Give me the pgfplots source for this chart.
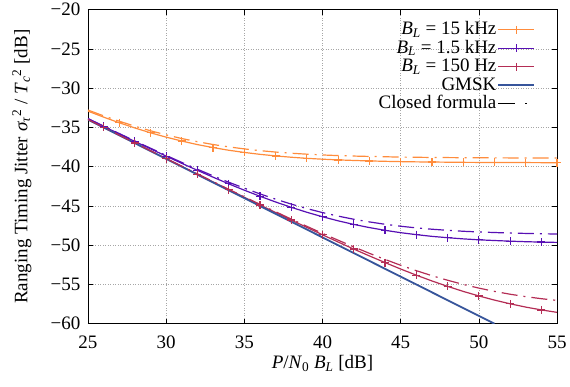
\documentclass[border=0pt]{standalone}
\usepackage{fontspec}
\setmainfont{Liberation Serif}
\usepackage{pgfplots}
\usepackage{pgfplotstable}
\pgfplotsset{compat=1.18}
\definecolor{corange}{RGB}{255,140,60}
\definecolor{cpurple}{RGB}{88,16,180}
\definecolor{cred}{RGB}{180,45,85}
\definecolor{cblue}{RGB}{55,85,155}
\newcommand{\bigf}{\fontsize{19}{22}\selectfont}

\pgfplotstableread{
x y
25 -32.92
26 -33.68
27 -34.40
28 -35.06
29 -35.68
30 -36.23
31 -36.73
32 -37.18
33 -37.56
34 -37.90
35 -38.18
36 -38.42
37 -38.62
38 -38.79
39 -38.93
40 -39.04
41 -39.13
42 -39.20
43 -39.26
44 -39.31
45 -39.35
46 -39.38
47 -39.40
48 -39.42
49 -39.44
50 -39.45
51 -39.46
52 -39.47
53 -39.47
54 -39.48
55 -39.48
}\orangesim

\pgfplotstableread{
x y
25 -32.78
26 -33.52
27 -34.20
28 -34.84
29 -35.42
30 -35.94
31 -36.41
32 -36.81
33 -37.17
34 -37.47
35 -37.73
36 -37.95
37 -38.13
38 -38.28
39 -38.40
40 -38.50
41 -38.58
42 -38.64
43 -38.69
44 -38.73
45 -38.77
47 -38.82
49 -38.85
51 -38.87
53 -38.88
55 -38.89
}\orangecf

\pgfplotstableread{
x y
25 -33.89
26 -34.86
27 -35.82
28 -36.78
29 -37.72
30 -38.65
31 -39.57
32 -40.46
33 -41.33
34 -42.18
35 -42.99
36 -43.76
37 -44.49
38 -45.17
39 -45.80
40 -46.37
41 -46.89
42 -47.35
43 -47.75
44 -48.10
45 -48.40
46 -48.65
47 -48.87
48 -49.04
49 -49.19
50 -49.31
51 -49.40
52 -49.48
53 -49.55
54 -49.60
55 -49.64
}\purplesim

\pgfplotstableread{
x y
25 -33.86
26 -34.82
27 -35.77
28 -36.72
29 -37.64
30 -38.56
31 -39.45
32 -40.32
33 -41.16
34 -41.97
35 -42.73
36 -43.46
37 -44.13
38 -44.76
39 -45.33
40 -45.84
41 -46.29
42 -46.69
43 -47.03
44 -47.33
45 -47.58
46 -47.79
47 -47.96
48 -48.10
49 -48.22
50 -48.31
52 -48.45
54 -48.54
55 -48.57
}\purplecf

\pgfplotstableread{
x y
25 -33.99
26 -34.99
27 -35.98
28 -36.98
29 -37.97
30 -38.97
31 -39.96
32 -40.95
33 -41.93
34 -42.91
35 -43.89
36 -44.87
37 -45.83
38 -46.79
39 -47.73
40 -48.67
41 -49.59
42 -50.49
43 -51.36
44 -52.21
45 -53.03
46 -53.81
47 -54.55
48 -55.24
49 -55.88
50 -56.46
51 -56.99
52 -57.46
53 -57.88
54 -58.24
55 -58.55
}\redsim

\pgfplotstableread{
x y
25 -33.98
26 -34.98
27 -35.97
28 -36.97
29 -37.96
30 -38.95
31 -39.93
32 -40.91
33 -41.89
34 -42.87
35 -43.83
36 -44.79
37 -45.73
38 -46.67
39 -47.59
40 -48.49
41 -49.36
42 -50.21
43 -51.03
44 -51.81
45 -52.55
46 -53.24
47 -53.88
48 -54.46
49 -54.99
50 -55.46
51 -55.88
52 -56.24
53 -56.55
54 -56.81
55 -57.03
}\redcf

\pgfplotstableread{
x y
25 -34
30 -39
35 -44
40 -49
45 -54
50 -59
51 -60
}\gmsk

\begin{document}
\begin{tikzpicture}
\begin{axis}[
  scale only axis, width=469pt, height=314pt,
  xmin=25, xmax=55, ymin=-60, ymax=-20,
  xtick={25,30,...,55}, xticklabels={25,30,35,40,45,50,55},
  ytick={-60,-55,...,-20},
  yticklabels={−60,−55,−50,−45,−40,−35,−30,−25,−20},
  tick label style={font=\bigf},
  xticklabel style={yshift=-9pt},
  yticklabel style={xshift=-4pt},
  label style={font=\bigf},
  xlabel={\textit{P}/\textit{N}\textsubscript{0} \textit{B}\textsubscript{\textit{L}} [dB]},
  xlabel style={at={(axis description cs:0.5,-0.127)}, anchor=center},
  ylabel={Ranging Timing Jitter \textit{σ}\textsubscript{\textit{τ}}\textsuperscript{2} / \textit{T}\textsubscript{\textit{c}}\textsuperscript{2} [dB]},
  ylabel style={at={(axis description cs:-0.141,0.5)}, anchor=center, rotate=0},
  grid=major,
  grid style={gray!70, dash pattern=on 1pt off 1.5pt, line width=0.6pt},
  tick align=inside, major tick length=5pt, tick style={black, line width=0.6pt},
  axis line style={line width=0.8pt},
  legend style={draw=none, fill=none, inner sep=0pt,
    at={(axis description cs:0.954,0.966)}, anchor=north east,
    font=\bigf,
    nodes={inner sep=1pt, text height=13pt, text depth=3.5pt}},
  legend cell align=right,
  legend plot pos=right,
  legend image code/.code={\draw[#1,mark repeat=2,mark phase=2] plot coordinates {(0pt,0pt)(18pt,0pt)(36pt,0pt)};},
]
\addplot[corange, line width=1.2pt, mark=+, mark size=4pt, mark repeat=2, mark phase=3] table {\orangesim};
\addlegendentry{\bigf\textit{B}\textsubscript{\textit{L}} = 15 kHz}
\addplot[cpurple, line width=1.2pt, mark=+, mark size=4pt, mark repeat=2, mark phase=2] table {\purplesim};
\addlegendentry{\bigf\textit{B}\textsubscript{\textit{L}} = 1.5 kHz}
\addplot[cred, line width=1.2pt, mark=+, mark size=4pt, mark repeat=2, mark phase=2] table {\redsim};
\addlegendentry{\bigf\textit{B}\textsubscript{\textit{L}} = 150 Hz}
\addplot[cblue, line width=1.8pt, no markers] table {\gmsk};
\addlegendentry{\bigf GMSK}
\addplot[corange, line width=1.2pt, dash pattern=on 16pt off 6pt on 2pt off 6pt, forget plot] table {\orangecf};
\addplot[cpurple, line width=1.2pt, dash pattern=on 16pt off 6pt on 2pt off 6pt, forget plot] table {\purplecf};
\addplot[cred, line width=1.2pt, dash pattern=on 16pt off 6pt on 2pt off 6pt, forget plot] table {\redcf};
\addlegendimage{black, line width=1.2pt, dash pattern=on 17pt off 10pt on 2pt off 20pt}
\addlegendentry{\bigf Closed formula}
\end{axis}
\path ([xshift=-88pt,yshift=-63pt]current axis.south west) rectangle ([xshift=13pt,yshift=8pt]current axis.north east);
\end{tikzpicture}
\end{document}
